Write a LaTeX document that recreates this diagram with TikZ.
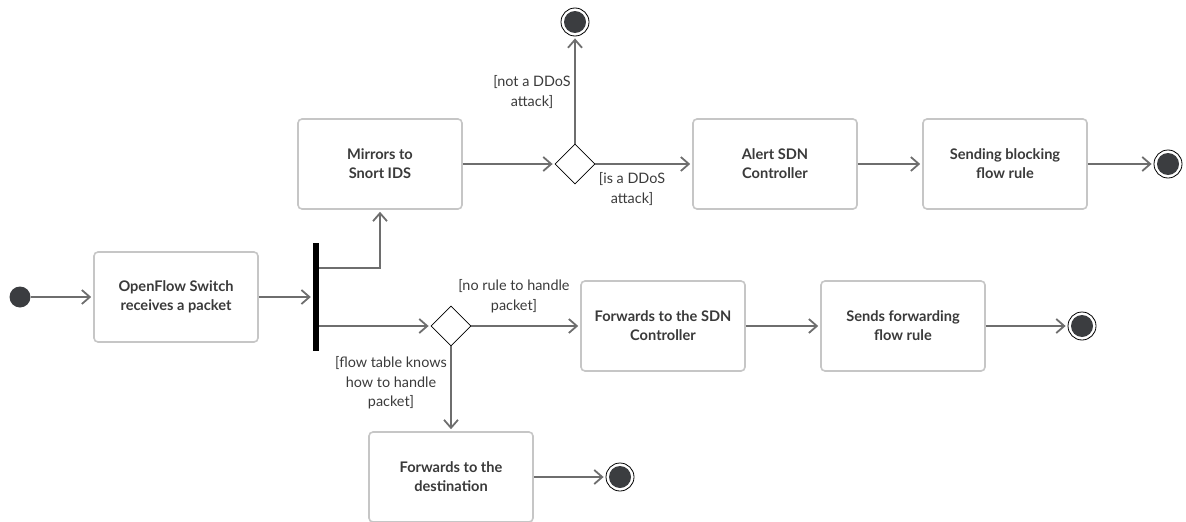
\documentclass[tikz,border=0pt]{standalone}
\usepackage{fontspec}
\setmainfont{Lato}
\usetikzlibrary{arrows.meta,shapes.geometric}
\definecolor{linegray}{HTML}{6E6E6E}
\definecolor{boxgray}{HTML}{C6C6C6}
\definecolor{textgray}{HTML}{3A3A3A}
\definecolor{dotgray}{HTML}{3B3D40}
\tikzset{
  action/.style={draw=boxgray, line width=1.6pt, rounded corners=4pt, fill=white,
    minimum width=164pt, minimum height=90pt, align=center, text=textgray,
    font=\bfseries\fontsize{14.6}{19}\selectfont},
  guard/.style={align=center, text=textgray, inner sep=1pt,
    font=\fontsize{14.4}{19.5}\selectfont},
  decision/.style={diamond, draw=black, line width=0.8pt, fill=white,
    minimum width=40pt, minimum height=40pt, inner sep=0pt},
  initial/.style={circle, fill=dotgray, minimum size=21pt, inner sep=0pt},
  final/.style={circle, draw=black, line width=0.8pt, fill=white,
    minimum size=28pt, inner sep=0pt,
    path picture={\fill[dotgray] (path picture bounding box.center) circle (11pt);}},
  forkbar/.style={fill=black, minimum width=6pt, minimum height=108pt, inner sep=0pt},
  flow/.style={draw=linegray, line width=2.2pt, shorten >=2pt,
    -{Straight Barb[length=8pt, width=14pt, line width=1.8pt]}}
}
\begin{document}
\begin{tikzpicture}[x=1pt, y=-1pt]
  \useasboundingbox (0,0) rectangle (1186,522);

  % nodes
  \node[initial] (start) at (20,297) {};
  \node[action] (switch) at (176,297) {OpenFlow Switch\\receives a packet};
  \node[forkbar] (fork) at (316,297) {};
  \node[action] (mirror) at (380,164) {Mirrors to\\Snort IDS};
  \node[decision] (ddos) at (575,164) {};
  \node[final] (endok) at (575,22) {};
  \node[action] (alert) at (775,164) {Alert SDN\\Controller};
  \node[action] (block) at (1005,164) {Sending blocking\\flow rule};
  \node[final] (endblock) at (1168,164) {};
  \node[decision] (table) at (451,326) {};
  \node[action] (tosdn) at (663,326) {Forwards to the SDN\\Controller};
  \node[action] (rule) at (903,326) {Sends forwarding\\flow rule};
  \node[final] (endrule) at (1082,326) {};
  \node[action] (todest) at (451,477) {Forwards to the\\destination};
  \node[final] (enddest) at (620,477) {};

  % guards
  \node[guard] (notddos) at (532,92) {[not a DDoS\\attack]};
  \node[guard] (isddos) at (632,189) {[is a DDoS\\attack]};
  \node[guard] (norule) at (514,296) {[no rule to handle\\packet]};
  \node[guard] (known) at (391,383) {[flow table knows\\how to handle\\packet]};

  % connectors
  \draw[flow] (start) -- (switch);
  \draw[flow] (switch) -- (fork);
  \draw[flow] ([yshift=29pt]fork.east) -| (mirror.south);
  \draw[flow] ([yshift=-29pt]fork.east) -- (table.west);
  \draw[flow] (mirror) -- (ddos.west);
  \draw[flow] (ddos.north) -- (endok);
  \draw[flow] (ddos.east) -- (alert);
  \draw[flow] (alert) -- (block);
  \draw[flow] (block) -- (endblock);
  \draw[flow] (table.east) -- (tosdn);
  \draw[flow] (tosdn) -- (rule);
  \draw[flow] (rule) -- (endrule);
  \draw[flow] (table.south) -- (todest);
  \draw[flow] (todest) -- (enddest);
\end{tikzpicture}
\end{document}
